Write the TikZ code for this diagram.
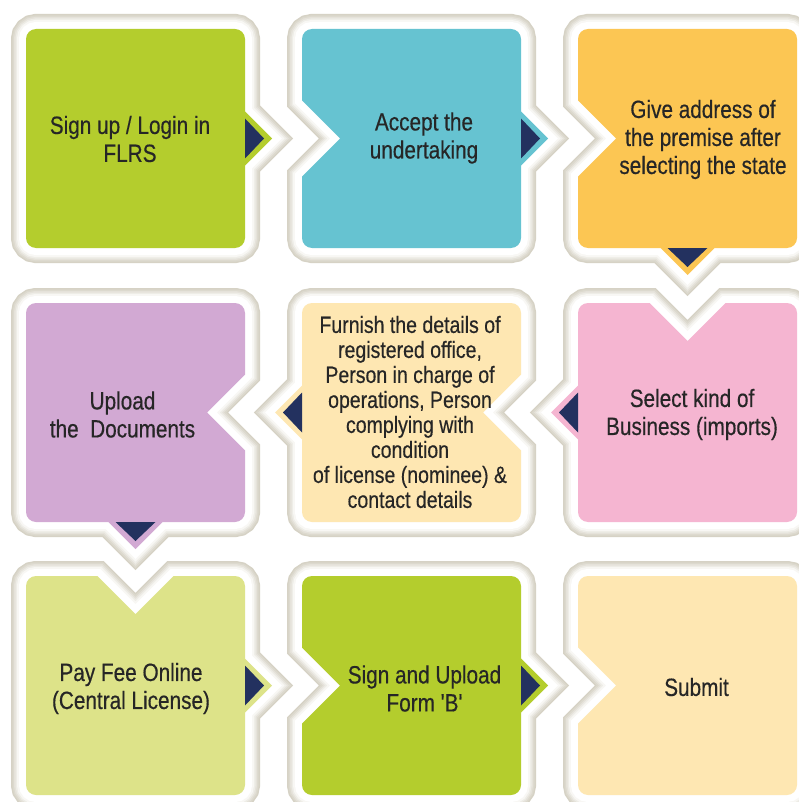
\documentclass[tikz,border=0pt]{standalone}
\usepackage{fontspec}
\setmainfont{Liberation Sans}[FakeStretch=0.83,FakeBold=0.4]
\newfontfamily\plainq{Liberation Sans}[FakeStretch=0.83,FakeBold=0.4]
\definecolor{fa}{HTML}{D6D2C5}
\definecolor{fb}{HTML}{DCD9CE}
\definecolor{fc}{HTML}{E5E2DA}
\definecolor{fd}{HTML}{EEEDE7}
\definecolor{fe}{HTML}{F8F7F4}
\definecolor{cgreen}{HTML}{B4CD2D}
\definecolor{cteal}{HTML}{66C3D1}
\definecolor{corange}{HTML}{FCC653}
\definecolor{cpurple}{HTML}{D2A9D3}
\definecolor{ccream}{HTML}{FEE7B2}
\definecolor{cpink}{HTML}{F5B5D1}
\definecolor{clime}{HTML}{DDE389}
\definecolor{navy}{HTML}{23315F}
\definecolor{txt}{HTML}{262626}
% side pieces of the box outline
\def\TS{}\def\RS{}\def\BS{}\def\LS{}
\def\TP{-- ({\cx-27},{\ya}) -- ({\cx},{\ya-27}) -- ({\cx+27},{\ya})}
\def\TN{-- ({\cx-38},{\ya}) -- ({\cx},{\ya+38}) -- ({\cx+38},{\ya})}
\def\RP{-- ({\xb},{\cy-27}) -- ({\xb+27},{\cy}) -- ({\xb},{\cy+27})}
\def\RN{-- ({\xb},{\cy-38}) -- ({\xb-38},{\cy}) -- ({\xb},{\cy+38})}
\def\BP{-- ({\cx+27},{\yb}) -- ({\cx},{\yb+27}) -- ({\cx-27},{\yb})}
\def\BN{-- ({\cx+38},{\yb}) -- ({\cx},{\yb-38}) -- ({\cx-38},{\yb})}
\def\LP{-- ({\xa},{\cy+27}) -- ({\xa-27},{\cy}) -- ({\xa},{\cy-27})}
\def\LN{-- ({\xa},{\cy+38}) -- ({\xa+38},{\cy}) -- ({\xa},{\cy-38})}
% navy arrow triangles
\def\ATP{\fill[navy] ({\cx-20},{\ya}) -- ({\cx},{\ya-19}) -- ({\cx+20},{\ya}) -- cycle;}
\def\ARP{\fill[navy] ({\xb},{\cy-20}) -- ({\xb+19},{\cy}) -- ({\xb},{\cy+20}) -- cycle;}
\def\ABP{\fill[navy] ({\cx-20},{\yb}) -- ({\cx},{\yb+19}) -- ({\cx+20},{\yb}) -- cycle;}
\def\ALP{\fill[navy] ({\xa},{\cy-20}) -- ({\xa-19},{\cy}) -- ({\xa},{\cy+20}) -- cycle;}
\newcommand\drawcell[7]{%
  \pgfmathsetmacro\xa{#1}%
  \pgfmathsetmacro\ya{#2}%
  \pgfmathsetmacro\xb{#1+219}%
  \pgfmathsetmacro\yb{#2+219}%
  \pgfmathsetmacro\cx{#1+109.5}%
  \pgfmathsetmacro\cy{#2+109.5}%
  \edef\cellp{({\xa},{\ya+10}) .. controls ({\xa},{\ya+4.5}) and ({\xa+4.5},{\ya}) .. ({\xa+10},{\ya})
    \csname T#3\endcsname -- ({\xb-10},{\ya}) .. controls ({\xb-4.5},{\ya}) and ({\xb},{\ya+4.5}) .. ({\xb},{\ya+10})
    \csname R#4\endcsname -- ({\xb},{\yb-10}) .. controls ({\xb},{\yb-4.5}) and ({\xb-4.5},{\yb}) .. ({\xb-10},{\yb})
    \csname B#5\endcsname -- ({\xa+10},{\yb}) .. controls ({\xa+4.5},{\yb}) and ({\xa},{\yb-4.5}) .. ({\xa},{\yb-10})
    \csname L#6\endcsname -- cycle}%
  \foreach \w/\c in {30/fa,27/fb,24/fc,21/fd,18/fe,14/white}{%
    \draw[line width=\w pt, draw=\c, line join=miter] \cellp;}%
  \fill[#7] \cellp;%
  \csname AT#3\endcsname\csname AR#4\endcsname\csname AB#5\endcsname\csname AL#6\endcsname
}
\tikzset{
  lbl/.style={align=center, inner sep=0pt, text=txt, font=\fontsize{25}{28}\selectfont},
  lblsmall/.style={align=center, inner sep=0pt, text=txt, font=\fontsize{23.5}{25}\selectfont}
}
\begin{document}
\begin{tikzpicture}[x=1pt,y=-1pt]
\useasboundingbox (0,0) rectangle (799,802);
\clip (0,0) rectangle (799,802);
\fill[white] (0,0) rectangle (799,802);
% row 1
\drawcell{26}{29}{S}{P}{S}{S}{cgreen}
\drawcell{302}{29}{S}{P}{S}{N}{cteal}
\drawcell{578}{29}{S}{S}{P}{N}{corange}
% row 2
\drawcell{26}{303}{S}{N}{P}{S}{cpurple}
\drawcell{302}{303}{S}{N}{S}{P}{ccream}
\drawcell{578}{303}{N}{S}{S}{P}{cpink}
% row 3
\drawcell{26}{576}{N}{P}{S}{S}{clime}
\drawcell{302}{576}{S}{P}{S}{N}{cgreen}
\drawcell{578}{576}{S}{S}{S}{N}{ccream}
% labels
\node[lbl] (t1) at (130,139) {Sign up / Login in\\FLRS};
\node[lbl] (t2) at (424,138) {Accept the\\undertaking};
\node[lbl] (t3) at (703,139.5) {Give address of\\the premise after\\selecting the state};
\node[lbl] (t4) at (122.5,414.5) {Upload\\the\ \ Documents};
\node[lblsmall] (t5) at (410,412) {Furnish the details of\\registered office,\\Person in charge of\\operations, Person\\complying with\\condition\\of license (nominee) \&\\contact details};
\node[lbl] (t6) at (692,414.5) {Select kind of\\Business (imports)};
\node[lbl] (t7) at (131,688.5) {Pay Fee Online\\(Central License)};
\node[lbl, font=\plainq\fontsize{25}{28}\selectfont] (t8) at (424.5,688.5) {Sign and Upload\\Form 'B'};
\node[lbl] (t9) at (696.5,687) {Submit};
\end{tikzpicture}
\end{document}
